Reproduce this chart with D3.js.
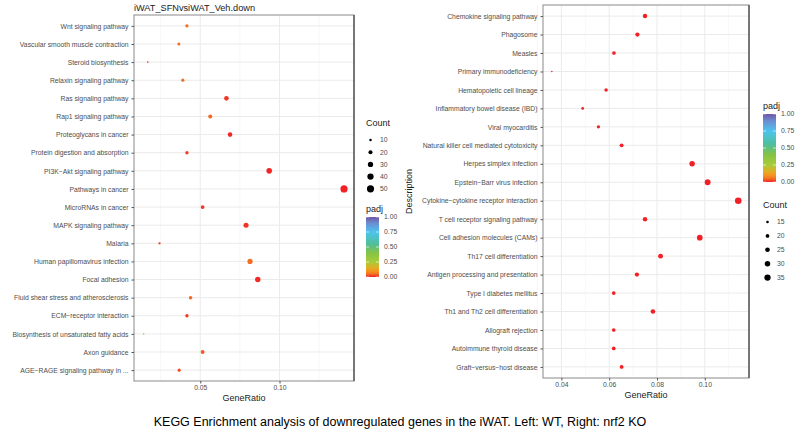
<!DOCTYPE html>
<html>
<head>
<meta charset="utf-8">
<script src="https://cdn.jsdelivr.net/npm/d3@7"></script>
<style>
  body { margin: 0; background: #fff; }
  svg text { font-family: "Liberation Sans", Arial, sans-serif; }
</style>
</head>
<body>
<svg id="chart" width="800" height="434"></svg>
<script>
// left panel: WT
var leftTerms = ["Wnt signaling pathway", "Vascular smooth muscle contraction", "Steroid biosynthesis",
  "Relaxin signaling pathway", "Ras signaling pathway", "Rap1 signaling pathway", "Proteoglycans in cancer",
  "Protein digestion and absorption", "PI3K\u2212Akt signaling pathway", "Pathways in cancer",
  "MicroRNAs in cancer", "MAPK signaling pathway", "Malaria", "Human papillomavirus infection",
  "Focal adhesion", "Fluid shear stress and atherosclerosis", "ECM\u2212receptor interaction",
  "Biosynthesis of unsaturated fatty acids", "Axon guidance", "AGE\u2212RAGE signaling pathway in ..."];
var leftRatio = [0.0416, 0.0365, 0.0169, 0.039, 0.0665, 0.0563, 0.0688, 0.0416, 0.0935, 0.1407,
  0.0515, 0.0789, 0.0243, 0.0814, 0.0863, 0.0439, 0.0416, 0.0143, 0.0515, 0.0367];
var leftCount = [15, 13, 6, 14, 24, 20, 24, 15, 33, 50, 18, 28, 9, 29, 31, 16, 15, 5, 18, 13];
var leftPadj = [0.045, 0.05, 0.01, 0.045, 0.012, 0.04, 0.005, 0.015, 0.003, 0.001,
  0.012, 0.01, 0.015, 0.045, 0.006, 0.04, 0.012, 0.09, 0.03, 0.022];
var leftTicks = [0.05, 0.10];
var leftSizeTicks = [10, 20, 30, 40, 50];

// right panel: nrf2 KO
var rightTerms = ["Chemokine signaling pathway", "Phagosome", "Measles", "Primary immunodeficiency",
  "Hematopoietic cell lineage", "Inflammatory bowel disease (IBD)", "Viral myocarditis",
  "Natural killer cell mediated cytotoxicity", "Herpes simplex infection", "Epstein\u2212Barr virus infection",
  "Cytokine\u2212cytokine receptor interaction", "T cell receptor signaling pathway",
  "Cell adhesion molecules (CAMs)", "Th17 cell differentiation", "Antigen processing and presentation",
  "Type I diabetes mellitus", "Th1 and Th2 cell differentiation", "Allograft rejection",
  "Autoimmune thyroid disease", "Graft\u2212versus\u2212host disease"];
var rightRatio = [0.075, 0.0718, 0.062, 0.036, 0.0587, 0.0489, 0.0555, 0.0652, 0.0947, 0.1012,
  0.114, 0.075, 0.0979, 0.0815, 0.0716, 0.0619, 0.0783, 0.0619, 0.0619, 0.0652];
var rightCount = [24, 23, 20, 11, 19, 16, 18, 21, 30, 32, 37, 24, 31, 26, 23, 20, 25, 20, 20, 21];
var rightPadj = [0.001, 0.001, 0.001, 0.002, 0.001, 0.002, 0.001, 0.001, 0.0005, 0.0005,
  0.0002, 0.001, 0.0005, 0.001, 0.001, 0.001, 0.001, 0.001, 0.001, 0.001];
var rightTicks = [0.04, 0.06, 0.08, 0.10];
var rightSizeTicks = [15, 20, 25, 30, 35];

var padjTicks = [0, 0.25, 0.5, 0.75, 1];

var svg = d3.select("#chart");
var grey = "#4d4d4d";

var color = d3.scaleLinear()
    .domain([0, 0.04, 0.12, 0.25, 0.4, 0.55, 0.75, 0.9, 1])
    .range(["#f21f26", "#f36a22", "#f5a31c", "#a8cc3a", "#86c344", "#4fbf9a", "#4cc4ee", "#6c8dd0", "#6e56a5"]);

// colour bar gradient
var grad = svg.append("defs").append("linearGradient")
    .attr("id", "padjGrad")
    .attr("x1", 0).attr("y1", 1).attr("x2", 0).attr("y2", 0);
d3.range(0, 1.001, 0.05).forEach(function(t) {
  grad.append("stop").attr("offset", t).attr("stop-color", color(t));
});

function drawPanel(o) {
  var x = d3.scaleLinear().domain(o.xDomain).range([o.x0, o.x1]);
  var y = d3.scalePoint().domain(o.terms).range([o.y0, o.y1]).padding(0.6);
  var r = d3.scaleSqrt().domain(o.rDomain).range(o.rRange);
  var g = svg.append("g");

  // grid: minor then major
  g.selectAll(".minor").data(o.minor).enter().append("line")
      .attr("x1", function(d) { return x(d); }).attr("x2", function(d) { return x(d); })
      .attr("y1", o.y0).attr("y2", o.y1)
      .attr("stroke", "#f2f2f2").attr("stroke-width", 0.6);
  g.selectAll(".vmaj").data(o.ticks).enter().append("line")
      .attr("x1", function(d) { return x(d); }).attr("x2", function(d) { return x(d); })
      .attr("y1", o.y0).attr("y2", o.y1)
      .attr("stroke", "#ebebeb").attr("stroke-width", 1);
  g.selectAll(".hmaj").data(o.terms).enter().append("line")
      .attr("x1", o.x0).attr("x2", o.x1)
      .attr("y1", function(d) { return y(d); }).attr("y2", function(d) { return y(d); })
      .attr("stroke", "#ebebeb").attr("stroke-width", 1);

  // border
  g.append("rect")
      .attr("x", o.x0).attr("y", o.y0)
      .attr("width", o.x1 - o.x0).attr("height", o.y1 - o.y0)
      .attr("fill", "none").attr("stroke", "#8a8a8a").attr("stroke-width", 1);
  g.append("line")
      .attr("x1", o.x1).attr("x2", o.x1).attr("y1", o.y0).attr("y2", o.y1)
      .attr("stroke", "#555").attr("stroke-width", 1.4);

  // axes
  var yAxis = g.append("g").attr("transform", "translate(" + o.x0 + ",0)")
      .call(d3.axisLeft(y).tickSize(2.5).tickPadding(3));
  var xAxis = g.append("g").attr("transform", "translate(0," + o.y1 + ")")
      .call(d3.axisBottom(x).tickValues(o.ticks).tickSize(2.5).tickPadding(2).tickFormat(d3.format(o.fmt)));
  [yAxis, xAxis].forEach(function(a) {
    a.select(".domain").remove();
    a.selectAll("line").attr("stroke", "#555");
    a.selectAll("text").attr("fill", grey).attr("font-size", 6.8).attr("font-family", "Liberation Sans, Arial, sans-serif");
  });

  // points
  var rows = o.terms.map(function(t, i) {
    return { term: t, ratio: o.ratio[i], count: o.count[i], padj: o.padj[i] };
  });
  g.selectAll(".dot").data(rows).enter().append("circle")
      .attr("cx", function(d) { return x(d.ratio); })
      .attr("cy", function(d) { return y(d.term); })
      .attr("r", function(d) { return r(d.count); })
      .attr("fill", function(d) { return color(d.padj); });

  g.append("text")
      .attr("x", (o.x0 + o.x1) / 2).attr("y", o.y1 + 20)
      .attr("text-anchor", "middle").attr("font-size", 9).attr("fill", "#222")
      .text("GeneRatio");

  // size legend
  var sl = g.append("g").attr("transform", "translate(" + o.sizeLeg[0] + "," + o.sizeLeg[1] + ")");
  sl.append("text").attr("x", 0).attr("y", 0).attr("font-size", 9).attr("fill", "#222").text("Count");
  sl.selectAll("circle").data(o.sizeTicks).enter().append("circle")
      .attr("cx", 4.5).attr("cy", function(d, i) { return 14 + i * o.sizeStep; })
      .attr("r", function(d) { return r(d); }).attr("fill", "#000");
  sl.selectAll(".lab").data(o.sizeTicks).enter().append("text")
      .attr("x", 14).attr("y", function(d, i) { return 14 + i * o.sizeStep + 2.4; })
      .attr("font-size", 6.8).attr("fill", grey).text(function(d) { return d; });

  // colour legend
  var cl = g.append("g").attr("transform", "translate(" + o.colLeg[0] + "," + o.colLeg[1] + ")");
  var cy = d3.scaleLinear().domain([0, 1]).range([o.barH, 0]);
  cl.append("text").attr("x", 0).attr("y", -5).attr("font-size", 9).attr("fill", "#222").text("padj");
  cl.append("rect").attr("x", 0).attr("y", 0).attr("width", 13).attr("height", o.barH)
      .attr("fill", "url(#padjGrad)");
  cl.selectAll(".tk").data(padjTicks).enter().append("line")
      .attr("x1", 0).attr("x2", 3).attr("y1", function(d) { return cy(d); }).attr("y2", function(d) { return cy(d); })
      .attr("stroke", "#fff").attr("stroke-width", 0.6);
  cl.selectAll(".tk2").data(padjTicks).enter().append("line")
      .attr("x1", 10).attr("x2", 13).attr("y1", function(d) { return cy(d); }).attr("y2", function(d) { return cy(d); })
      .attr("stroke", "#fff").attr("stroke-width", 0.6);
  cl.selectAll(".lab").data(padjTicks).enter().append("text")
      .attr("x", 18).attr("y", function(d) { return cy(d) + 2.4; })
      .attr("font-size", 6.8).attr("fill", grey).text(function(d) { return d3.format(".2f")(d); });

  return g;
}

drawPanel({
  terms: leftTerms, ratio: leftRatio, count: leftCount, padj: leftPadj,
  x0: 134, x1: 354, y0: 15, y1: 381,
  xDomain: [0.0082, 0.147], ticks: leftTicks, minor: [0.025, 0.075, 0.125], fmt: ".2f",
  rDomain: [5, 50], rRange: [0.7, 3.6],
  sizeTicks: leftSizeTicks, sizeStep: 12.2, sizeLeg: [366, 126],
  colLeg: [366, 217], barH: 60
});

var right = drawPanel({
  terms: rightTerms, ratio: rightRatio, count: rightCount, padj: rightPadj,
  x0: 543, x1: 749, y0: 5, y1: 378,
  xDomain: [0.0323, 0.1185], ticks: rightTicks, minor: [0.03, 0.05, 0.07, 0.09, 0.11], fmt: ".2f",
  rDomain: [11, 37], rRange: [0.8, 3.3],
  sizeTicks: rightSizeTicks, sizeStep: 13.9, sizeLeg: [763, 208],
  colLeg: [763, 114], barH: 68
});

right.append("text")
    .attr("transform", "translate(412,191.5) rotate(-90)")
    .attr("text-anchor", "middle").attr("font-size", 9).attr("fill", "#222")
    .text("Description");

svg.append("text")
    .attr("x", 134).attr("y", 10.5)
    .attr("font-size", 9.2).attr("fill", "#222")
    .text("iWAT_SFNvsiWAT_Veh.down");

svg.append("text")
    .attr("x", 400).attr("y", 425.5)
    .attr("text-anchor", "middle").attr("font-size", 12.5).attr("fill", "#000")
    .text("KEGG Enrichment analysis of downregulated genes in the iWAT. Left: WT, Right: nrf2 KO");
</script>
</body>
</html>
